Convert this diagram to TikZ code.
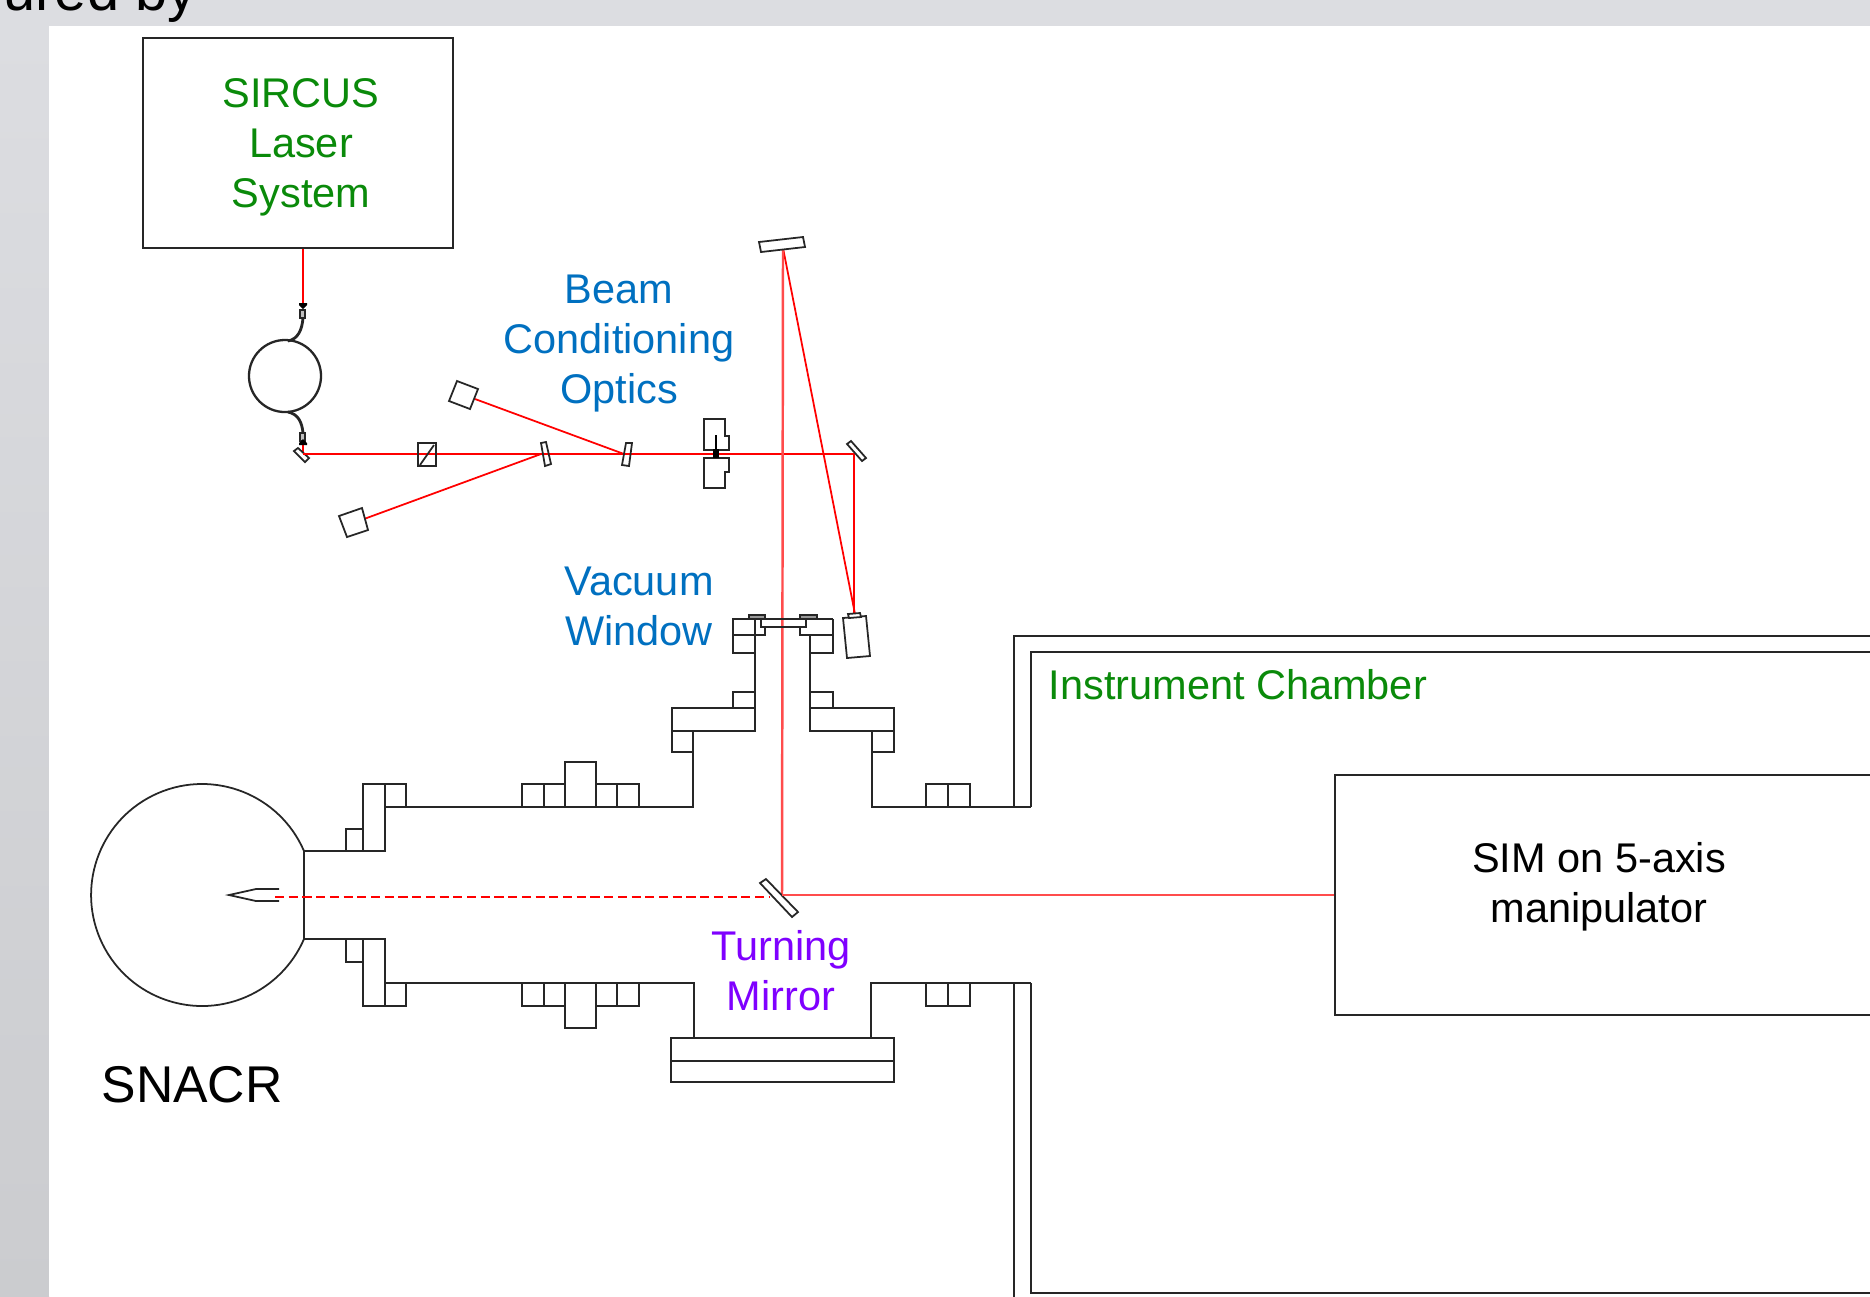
\documentclass[tikz,border=0pt]{standalone}
\usepackage{fontspec}
\setmainfont{Liberation Sans}
\usepackage{xcolor}
\usetikzlibrary{positioning}
\definecolor{slidegray}{HTML}{DCDDE1}
\definecolor{stripgray}{HTML}{CBCCCF}
\definecolor{labelgreen}{HTML}{0A8A0A}
\definecolor{labelblue}{HTML}{0070C0}
\definecolor{labelpurple}{HTML}{7F00FF}

\begin{document}
\begin{tikzpicture}[
  x=0.01cm, y=-0.01cm,
  font=\fontsize{11.8pt}{14.2pt}\selectfont,
  wall/.style={draw=black!85, line width=0.5pt},
  beam/.style={draw=red, line width=0.5pt},
  softbeam/.style={draw=red!70, line width=0.7pt},
  lbl/.style={align=center, inner sep=0pt, anchor=base}
]
\clip (0,0) rectangle (1870,1296);
\useasboundingbox (0,0) rectangle (1870,1296);
% slide behind the figure
\fill[slidegray] (0,0) rectangle (1870,1296);
\shade[top color=slidegray, bottom color=stripgray] (0,26) rectangle (49,1296);
\fill[white] (49,26) rectangle (1870,1296);
\node[inner sep=0pt, anchor=base west, font=\fontsize{16.4pt}{18pt}\selectfont] (cap) at (3,10) {ured by};
% laser and fibre
\node[draw=black!85, line width=0.5pt, minimum width=3.1cm, minimum height=2.1cm, inner sep=0pt] (las) at (298,143) {};
\node[lbl, text=labelgreen] (lastxt) at (301,207) {SIRCUS\\Laser\\System};
\node[wall, circle, line width=0.65pt, minimum size=0.72cm, inner sep=0pt] (coil) at (285,376) {};
\coordinate (fibtop) at (303,318);
\coordinate (fibbot) at (303,433);
\coordinate (fibout) at (303,454);
\draw[beam] (las.south -| fibtop) -- (303,304);
\draw[beam] (303,444) -- (fibout);
\draw[wall, line width=0.8pt] (288,341) .. controls (298,339) and (302,330) .. (fibtop);
\draw[wall, line width=0.8pt] (288,412) .. controls (298,414) and (302,422) .. (fibbot);
\draw[wall, fill=black!25] (300,310) rectangle (305,318);
\draw[wall, fill=black!25] (300,433) rectangle (305,441);
\fill[black] (299,303) -- (307,303) -- (307,305) -- (303,309) -- (299,305) -- cycle;
\fill[black] (299,445) -- (307,445) -- (307,443) -- (303,439) -- (299,443) -- cycle;
\draw[wall, fill=white] (294,451) -- (298,448) -- (309,458) -- (305,462) -- cycle;
% optics on the table
\coordinate (wp1) at (541,454);
\coordinate (wp2) at (624,454);
\coordinate (foldb) at (854,454);
\coordinate (foldt) at (783,248);
\coordinate (lens) at (855,614);
\coordinate (turn) at (782,895);
\draw[beam] (fibout) -- (foldb);
\draw[beam] (475,399) -- (wp2);
\draw[beam] (364,519) -- (wp1);
\draw[beam] (foldb) -- (854,614);
\draw[beam] (foldt) -- (lens);
\draw[softbeam] (foldt) -- (turn);
\draw[wall] (418,443) rectangle (436,466);
\draw[wall] (420,465) -- (434,445);
\draw[wall] (541,443) -- (546,442) -- (551,464) -- (545,466) -- cycle;
\draw[wall] (626,443) -- (632,443) -- (629,466) -- (622,465) -- cycle;
\draw[wall, fill=white] (457,381) -- (478,389) -- (470,409) -- (449,401) -- cycle;
\draw[wall, fill=white] (339,516) -- (362,508) -- (368,530) -- (347,537) -- cycle;
% iris
\draw[wall] (704,419) -- (725,419) -- (725,436) -- (729,436) -- (729,450) -- (704,450) -- cycle;
\draw[wall] (704,458) -- (729,458) -- (729,472) -- (725,472) -- (725,488) -- (704,488) -- cycle;
\draw[black, line width=0.8pt] (716,435) -- (716,450);
\draw[black, line width=1.6pt] (716,449) -- (716,458);
% mirrors
\draw[wall, fill=white] (759,242) -- (803,237) -- (805,247) -- (761,252) -- cycle;
\draw[wall, fill=white] (847,444) -- (851,441) -- (866,458) -- (862,461) -- cycle;
\draw[wall, fill=white] (760,883) -- (766,879) -- (798,912) -- (792,917) -- cycle;
% lens tube
\draw[wall, fill=white] (843,618) -- (866,616) -- (870,656) -- (847,658) -- cycle;
\draw[wall, fill=white] (848,614) -- (860,613) -- (861,617) -- (849,618) -- cycle;
% window flanges
\draw[wall] (733,619) -- (833,619);
\draw[wall] (733,619) rectangle (755,635);
\draw[wall] (755,635) -- (765,635) -- (765,627);
\draw[wall] (761,619) -- (761,627) -- (806,627) -- (806,619);
\draw[wall] (800,627) -- (800,635) -- (833,635) -- (833,619);
\draw[wall] (733,635) rectangle (755,653);
\draw[wall] (810,635) rectangle (833,653);
\draw[wall, fill=black!40] (749,615) rectangle (765,619);
\draw[wall, fill=black!40] (800,615) rectangle (817,619);
\draw[wall] (755,653) -- (755,708);
\draw[wall] (810,653) -- (810,708);
\draw[wall] (733,692) rectangle (755,708);
\draw[wall] (810,692) rectangle (833,708);
\draw[wall] (672,708) rectangle (755,731);
\draw[wall] (810,708) rectangle (894,731);
\draw[wall] (672,731) rectangle (693,752);
\draw[wall] (872,731) rectangle (894,752);
% SNACR and probe
\coordinate (dshl) at (275,897);
\draw[wall] (304,851) arc[start angle=-23.35, end angle=-336.65, radius=111];
\draw[wall] (304,851) -- (304,939);
\draw[wall] (279,889) -- (256,889) -- (229,895) -- (256,901) -- (279,901);
% pipe
\draw[wall] (304,851) -- (385,851);
\draw[wall] (304,939) -- (385,939);
\draw[wall] (363,784) rectangle (385,851);
\draw[wall] (363,939) rectangle (385,1006);
\draw[wall] (346,829) rectangle (363,851);
\draw[wall] (346,939) rectangle (363,962);
\draw[wall] (385,784) rectangle (406,807);
\draw[wall] (385,983) rectangle (406,1006);
\draw[wall] (406,807) -- (693,807) -- (693,752);
\draw[wall] (406,983) -- (694,983) -- (694,1038);
\draw[wall] (872,752) -- (872,807) -- (1031,807);
\draw[wall] (871,1038) -- (871,983) -- (1031,983);
\draw[wall] (522,784) rectangle (544,807);
\draw[wall] (544,784) rectangle (565,807);
\draw[wall] (565,762) rectangle (596,807);
\draw[wall] (596,784) rectangle (617,807);
\draw[wall] (617,784) rectangle (639,807);
\draw[wall] (522,983) rectangle (544,1006);
\draw[wall] (544,983) rectangle (565,1006);
\draw[wall] (565,983) rectangle (596,1028);
\draw[wall] (596,983) rectangle (617,1006);
\draw[wall] (617,983) rectangle (639,1006);
\draw[wall] (926,784) rectangle (948,807);
\draw[wall] (948,784) rectangle (970,807);
\draw[wall] (926,983) rectangle (948,1006);
\draw[wall] (948,983) rectangle (970,1006);
\draw[wall] (671,1038) rectangle (894,1061);
\draw[wall] (671,1061) rectangle (894,1082);
% chamber
\draw[wall] (1014,807) -- (1014,636) -- (1880,636);
\draw[wall] (1031,807) -- (1031,652) -- (1880,652);
\draw[wall] (1014,983) -- (1014,1310);
\draw[wall] (1031,983) -- (1031,1293) -- (1880,1293);
% sample box and beam into it
\node[draw=black!85, line width=0.5pt, minimum width=6cm, minimum height=2.4cm, inner sep=0pt, anchor=west] (sim) at (1334,895) {};
\draw[softbeam] (turn) -- (sim.west);
\draw[beam, dash pattern=on 2.6pt off 1.3pt] (dshl) -- (770,897);
% labels
\node[lbl, text=labelblue] (bco) at (619,403) {Beam\\Conditioning\\Optics};
\node[lbl, text=labelblue] (vac) at (639,645) {Vacuum\\Window};
\node[lbl, text=labelgreen, anchor=base west] (ich) at (1048,699) {Instrument Chamber};
\node[lbl] (simtxt) at (1599,922) {SIM on 5-axis\\manipulator};
\node[lbl, text=labelpurple] (tmi) at (781,1010) {Turning\\Mirror};
\node[lbl, anchor=base west, font=\fontsize{14.7pt}{17pt}\selectfont] (sna) at (101,1102) {SNACR};
\end{tikzpicture}
\end{document}
